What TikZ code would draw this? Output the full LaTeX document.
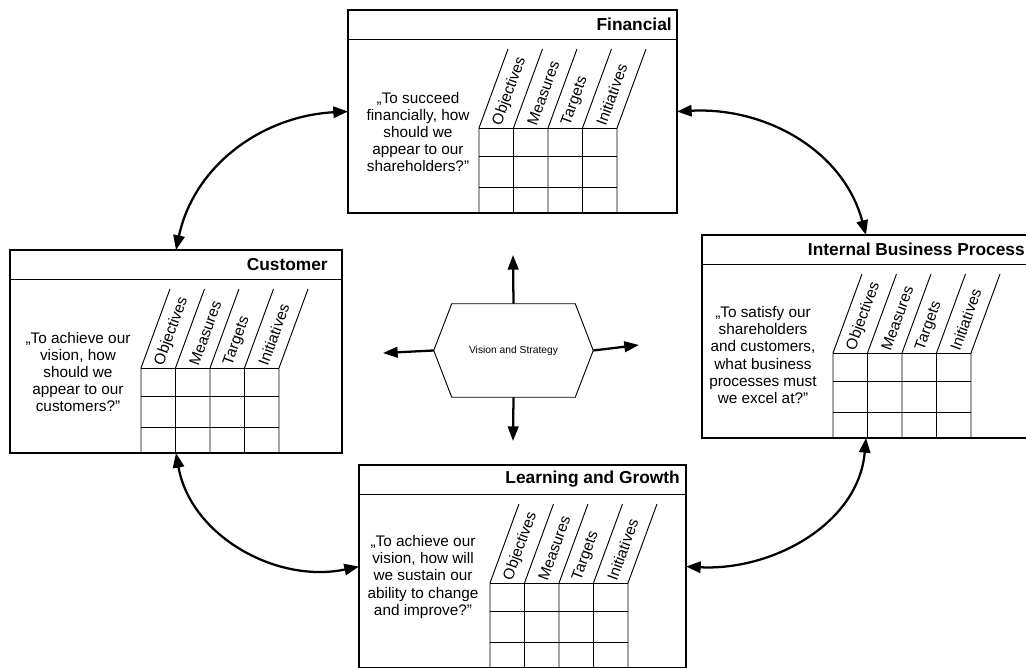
\documentclass[tikz,border=0pt]{standalone}
\usepackage{fontspec}
\setmainfont{Liberation Sans}
\usepackage{tikz}
\usetikzlibrary{arrows.meta,calc}

\tikzset{
  bsc frame/.style={draw=black, line width=0.8pt, minimum width=#1*0.75pt, minimum height=203*0.75pt,
    anchor=north west, inner sep=0pt, outer sep=0pt},
  bsc title/.style={anchor=east, inner sep=0pt, font=\fontsize{13}{15}\selectfont\bfseries},
  bsc quote/.style={align=center, inner sep=0pt, font=\fontsize{11.5}{12.8}\selectfont},
  bsc label/.style={rotate=70, anchor=west, inner sep=0pt, font=\fontsize{11.5}{13}\selectfont},
  bsc grid/.style={draw=black, line width=0.7pt},
  link/.style={{Triangle[length=11pt,width=8.5pt]}-{Triangle[length=11pt,width=8.5pt]}, line width=1.7pt},
  spoke/.style={-{Triangle[length=11pt,width=8pt]}, line width=1.7pt}
}

% one perspective: name, x, y, width, title, question, question x, question y, title gap
\newcommand{\bscbox}[9]{%
  \node[bsc frame=#4] (#1) at (#2,#3) {};
  \draw[bsc grid] ($(#1.north west)+(0,-29)$) -- ($(#1.north east)+(0,-29)$);
  \node[bsc title] (#1-title) at ($(#1.north east)+(-#9,-14.5)$) {#5};
  \node[bsc quote] (#1-quote) at ($(#1.north west)+(#7,-#8)$) {#6};
  \coordinate (#1-tab) at ($(#1.north west)+(131,-118)$);
  \foreach \c in {0,...,4}
    \draw[bsc grid] ($(#1-tab)+(\c*34.5,-85)$) -- ($(#1-tab)+(\c*34.5,0)$) -- ++(29,79);
  \foreach \r in {0,28,59}
    \draw[bsc grid] ($(#1-tab)+(0,-\r)$) -- ++(138,0);
  \foreach \lab [count=\c from 0] in {Objectives,Measures,Targets,Initiatives}
    \node[bsc label] (#1-lab\c) at ($(#1-tab)+(\c*34.5+18.25,3)$) {\lab};
}

\begin{document}
\begin{tikzpicture}[x=0.75pt, y=0.75pt]
    \clip (0,0) rectangle (1026,668);

    % Perspectives
    \bscbox{fin}{348}{658}{329}{Financial}
      {„To succeed\\financially, how\\should we\\appear to our\\shareholders?”}{70}{122}{5}
    \bscbox{cust}{10}{418}{332}{Customer}
      {„To achieve our\\vision, how\\should we\\appear to our\\customers?”}{68}{122}{14}
    \bscbox{int}{702}{433}{328}{Internal Business Process}
      {„To satisfy our\\shareholders\\and customers,\\what business\\processes must\\we excel at?”}{61}{120}{5}
    \bscbox{learn}{359}{203}{327}{Learning and Growth}
      {„To achieve our\\vision, how will\\we sustain our\\ability to change\\and improve?”}{64}{112}{6}

    % Centre
    \node[minimum width=159*0.75pt, minimum height=93*0.75pt, inner sep=0pt,
      font=\fontsize{7.7}{9}\selectfont] (vision) at (513.5,317.5) {Vision and Strategy};
    \draw[line width=0.7pt] (vision.west) -- ($(vision.north west)+(18,0)$)
      -- ($(vision.north east)+(-18,0)$) -- (vision.east)
      -- ($(vision.south east)+(-18,0)$) -- ($(vision.south west)+(18,0)$) -- cycle;

    \coordinate (up) at (513,413);
    \coordinate (down) at (513,227);
    \coordinate (left) at (383,315);
    \coordinate (right) at (639,323);
    \draw[spoke] (vision.north) -- (up);
    \draw[spoke] (vision.south) -- (down);
    \draw[spoke] (vision.west) -- (left);
    \draw[spoke] (vision.east) -- (right);

    % Links
    \draw[link] (cust.north) to[out=78, in=183] (fin.west);
    \draw[link] (fin.east) to[out=3, in=105] (int.north);
    \draw[link] (cust.south) to[out=-80, in=192] (learn.west);
    \draw[link] (int.south) to[out=-95, in=-3] (learn.east);
\end{tikzpicture}
\end{document}
